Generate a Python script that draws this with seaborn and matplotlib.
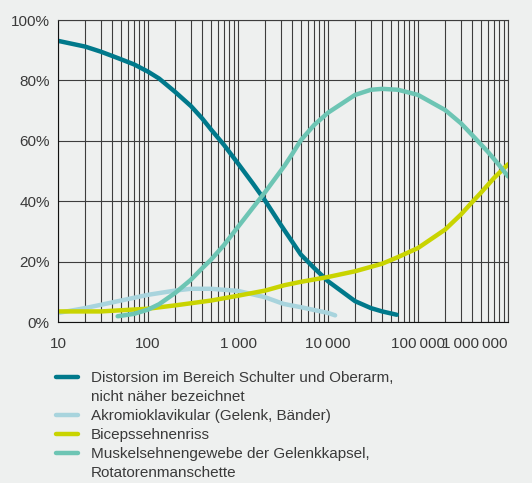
import matplotlib
matplotlib.use("Agg")
import matplotlib.pyplot as plt
import seaborn as sns
import pandas as pd
from matplotlib.lines import Line2D
from matplotlib.ticker import FixedLocator, NullFormatter

# ---- data ----
labels = [
    "Distorsion im Bereich Schulter und Oberarm,\nnicht näher bezeichnet",
    "Akromioklavikular (Gelenk, Bänder)",
    "Bicepssehnenriss",
    "Muskelsehnengewebe der Gelenkkapsel,\nRotatorenmanschette",
]
colors = ["#00798B", "#A8D4DD", "#C9D400", "#6DC5B4"]

dist_x = [10, 20, 30, 40, 50, 70, 100, 133, 200, 300, 400, 500, 700, 1000, 1460, 2000,
          3000, 5000, 7000, 10000, 20000, 30000, 40000, 58000]
dist_y = [93.1, 91.2, 89.5, 88.1, 87.0, 85.3, 82.9, 80.6, 76.2, 71.5, 67.4, 63.8, 58.6, 52.5, 45.9, 40.2,
          32.1, 22.3, 17.9, 13.5, 6.9, 4.6, 3.5, 2.4]

akro_x = [10, 20, 30, 50, 100, 200, 300, 500, 1000, 2000, 3200, 5000, 10000, 12000]
akro_y = [3.0, 4.6, 5.7, 7.1, 9.0, 10.4, 11.0, 11.0, 10.3, 8.2, 6.0, 4.9, 3.0, 2.2]

bic_x = [10, 30, 100, 200, 500, 1000, 2000, 3300, 5000, 10000, 20000, 40000, 60000,
         100000, 200000, 300000, 400000, 500000, 700000, 1000000]
bic_y = [3.5, 3.5, 4.4, 5.5, 7.1, 8.7, 10.4, 12.2, 13.3, 14.9, 16.8, 19.3, 21.5,
         24.5, 30.6, 35.6, 39.7, 42.8, 47.7, 52.2]

musk_x = [46, 70, 100, 133, 200, 300, 400, 500, 700, 1000, 1460, 2000, 3300, 4000, 5000, 7000,
          10000, 20000, 30000, 40000, 60000, 100000, 200000, 300000, 400000, 600000, 800000, 1000000]
musk_y = [1.9, 2.7, 4.1, 5.9, 9.6, 14.0, 17.8, 20.6, 25.5, 31.5, 37.8, 43.0, 51.8, 55.6, 60.2, 65.2,
          69.3, 75.2, 76.9, 77.2, 76.9, 75.2, 70.2, 65.8, 61.9, 56.3, 51.9, 48.2]

xticks = [10, 100, 1000, 10000, 100000, 1000000]
xticklabels = ["10", "100", "1\u2009000", "10\u2009000", "100\u2009000", "1\u2009000\u2009000"]
yticks = [0, 20, 40, 60, 80, 100]
yticklabels = ["0%", "20%", "40%", "60%", "80%", "100%"]

frames = []
for lab, xs, ys in zip(labels, [dist_x, akro_x, bic_x, musk_x], [dist_y, akro_y, bic_y, musk_y]):
    frames.append(pd.DataFrame({"x": xs, "y": ys, "series": lab}))
df = pd.concat(frames, ignore_index=True)

# ---- style ----
bg = "#EEF0EF"
txt = "#3a3a3a"
sns.set_style("white")
plt.rcParams["font.family"] = ["Liberation Sans", "DejaVu Sans"]
plt.rcParams["text.color"] = txt

fig = plt.figure(figsize=(5.32, 4.83), dpi=100, facecolor=bg)
ax = fig.add_axes([58 / 532, 1 - 322 / 483, 450 / 532, 302 / 483])
ax.set_facecolor(bg)

ax.set_xscale("log")
ax.set_xlim(10, 1000000)
ax.set_ylim(0, 100)

minor = [m * 10 ** e for e in range(1, 6) for m in range(2, 10)]
ax.xaxis.set_minor_locator(FixedLocator(minor))
ax.xaxis.set_minor_formatter(NullFormatter())
ax.set_xticks(xticks)
ax.set_xticklabels(xticklabels)
ax.set_yticks(yticks)
ax.set_yticklabels(yticklabels)
gc = "#3d3d3d"
ax.grid(True, which="both", axis="x", color=gc, lw=0.8)
ax.grid(True, which="major", axis="y", color=gc, lw=0.8)
ax.set_axisbelow(True)
for s in ax.spines.values():
    s.set_color(gc)
    s.set_linewidth(0.8)
ax.spines["left"].set_color("#111111")
ax.spines["bottom"].set_color("#111111")

ax.tick_params(axis="both", which="both", length=0, labelsize=11, colors=txt)
ax.tick_params(axis="x", pad=11)
ax.tick_params(axis="y", pad=6)
xt = ax.get_xticklabels()
xt[-1].set_ha("right")

sns.lineplot(data=df, x="x", y="y", hue="series", hue_order=labels, palette=colors,
             estimator=None, sort=True, lw=3.2, ax=ax, legend=False)
ax.set_xlabel("")
ax.set_ylabel("")

# legend: one row per text line, handle only on the first line of each entry
handles, leg_labels = [], []
for lab, c in zip(labels, colors):
    for i, part in enumerate(lab.split("\n")):
        if i == 0:
            handles.append(Line2D([], [], color=c, lw=3.2))
        else:
            handles.append(Line2D([], [], color="none", lw=0))
        leg_labels.append(part)
leg = fig.legend(handles, leg_labels, loc="upper left", bbox_to_anchor=(56 / 532, 1 - 371 / 483),
                 frameon=False, fontsize=11, handlelength=1.45, handletextpad=0.85,
                 borderpad=0, borderaxespad=0, labelspacing=0.33)
for t in leg.get_texts():
    t.set_color(txt)

fig.savefig("out.png", dpi=100, facecolor=bg)
